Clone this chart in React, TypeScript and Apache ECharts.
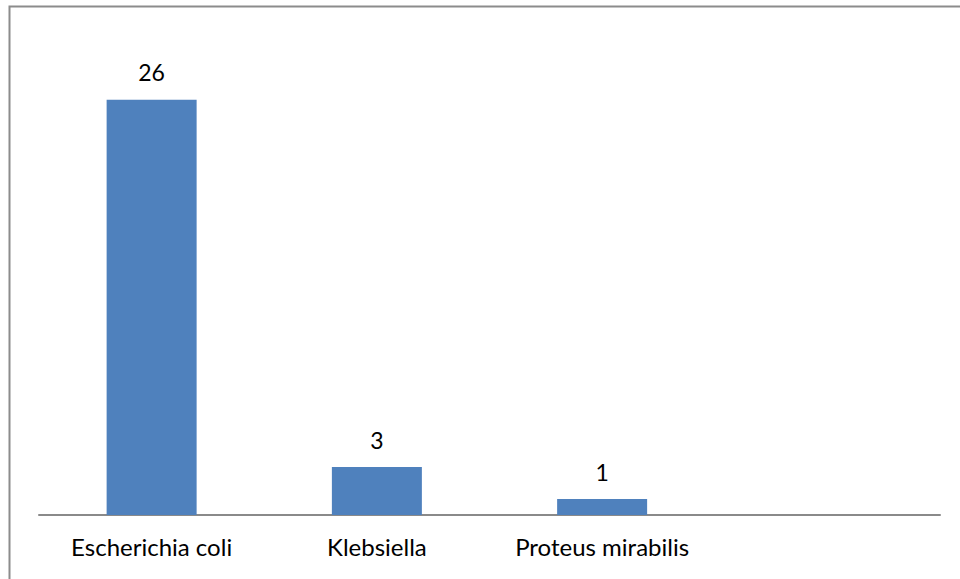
import React, { useEffect, useRef } from "react";
import * as echarts from "echarts";

const categories = ["Escherichia coli", "Klebsiella", "Proteus mirabilis", ""];
const values = [26, 3, 1, null];

export default function App() {
  const ref = useRef<HTMLDivElement>(null);
  useEffect(() => {
    if (!ref.current) return;
    const chart = echarts.init(ref.current, undefined, { renderer: "svg" });
    chart.setOption({
      animation: false,
      backgroundColor: "#ffffff",
      graphic: [
        {
          type: "rect",
          shape: { x: 9.5, y: 6.5, width: 1000, height: 1000 },
          style: { fill: "none", stroke: "#8c8c8c", lineWidth: 2 },
          silent: true,
        },
      ],
      grid: { left: 39, right: 20, top: 36, bottom: 64, containLabel: false },
      xAxis: {
        type: "category",
        data: categories,
        axisLine: { lineStyle: { color: "#8a8a8a", width: 2 } },
        axisTick: { show: false },
        axisLabel: {
          interval: 0,
          hideOverlap: false,
          color: "#000000",
          fontFamily: "Lato",
          fontSize: 24,
          margin: 19,
        },
      },
      yAxis: {
        type: "value",
        min: 0,
        max: 30,
        show: false,
        splitLine: { show: false },
      },
      series: [
        {
          type: "bar",
          data: values,
          barWidth: 90,
          itemStyle: { color: "#4f81bd" },
          label: {
            show: true,
            position: "top",
            distance: 16,
            color: "#000000",
            fontFamily: "Lato",
            fontSize: 23,
          },
        },
      ],
    });
    return () => chart.dispose();
  }, []);
  return (
    <div
      ref={ref}
      style={{ position: "fixed", left: 0, top: 0, width: 960, height: 579 }}
    />
  );
}
